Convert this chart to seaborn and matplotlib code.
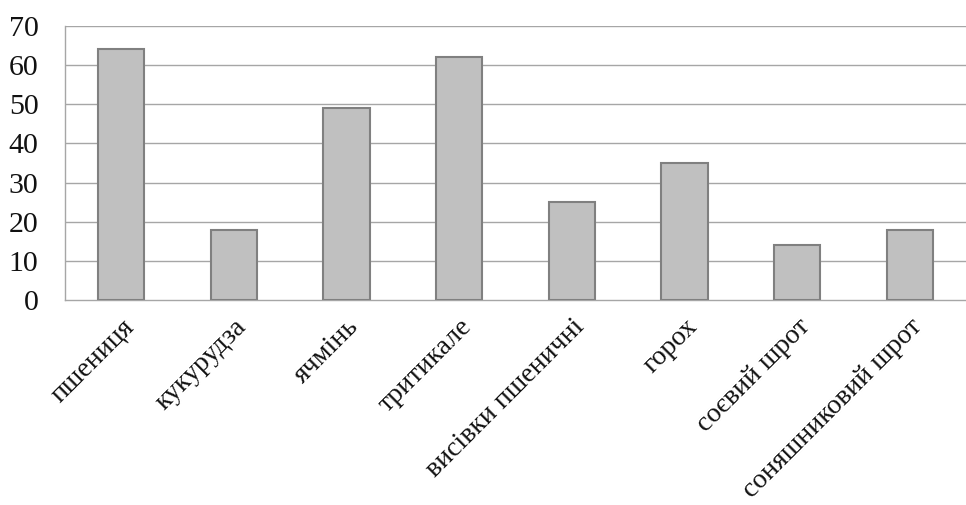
import matplotlib
matplotlib.use("Agg")
import matplotlib.pyplot as plt
import seaborn as sns
import pandas as pd

categories = ["пшениця", "кукурудза", "ячмінь", "тритикале",
              "висівки пшеничні", "горох", "соєвий шрот", "соняшниковий шрот"]
values = [64, 18, 49, 62, 25, 35, 14, 18]
y_ticks = [0, 10, 20, 30, 40, 50, 60, 70]

df = pd.DataFrame({"category": categories, "value": values})

sns.set_theme(style="white")
plt.rcParams["font.family"] = ["Liberation Serif", "DejaVu Serif"]

fig = plt.figure(figsize=(9.66, 5.05), dpi=100)
ax = fig.add_axes([65 / 966, 1 - 300 / 505, 1 - 65 / 966, (300 - 26) / 505])

sns.barplot(data=df, x="category", y="value", ax=ax, color="#C0C0C0",
            saturation=1, width=0.41, edgecolor="#808080", linewidth=1.5,
            zorder=3)

ax.set_ylim(0, 70)
ax.set_xlim(-0.5, len(categories) - 0.5)
ax.set_yticks(y_ticks)
ax.set_xlabel("")
ax.set_ylabel("")

grid_color = "#A6A6A6"
for y in y_ticks[1:]:
    ax.axhline(y, color=grid_color, lw=1.0, zorder=1)

for side in ("top", "right"):
    ax.spines[side].set_visible(False)
for side in ("left", "bottom"):
    ax.spines[side].set_color(grid_color)
    ax.spines[side].set_linewidth(1.0)

# category-boundary ticks on the x axis
ax.set_xticks([i - 0.5 for i in range(len(categories) + 1)], minor=True)
ax.tick_params(axis="x", which="minor", length=8, color=grid_color, width=1.0,
               direction="out")
ax.tick_params(axis="x", which="major", length=0, pad=10)
ax.tick_params(axis="y", length=8, color=grid_color, width=1.0, direction="out",
               labelsize=21.5, pad=11, labelcolor="#111111")

ax.set_xticks(range(len(categories)))
ax.set_xticklabels(categories, rotation=45, ha="right", va="top",
                   rotation_mode="anchor", fontsize=20, color="#111111")

fig.savefig("out.png", dpi=100)
